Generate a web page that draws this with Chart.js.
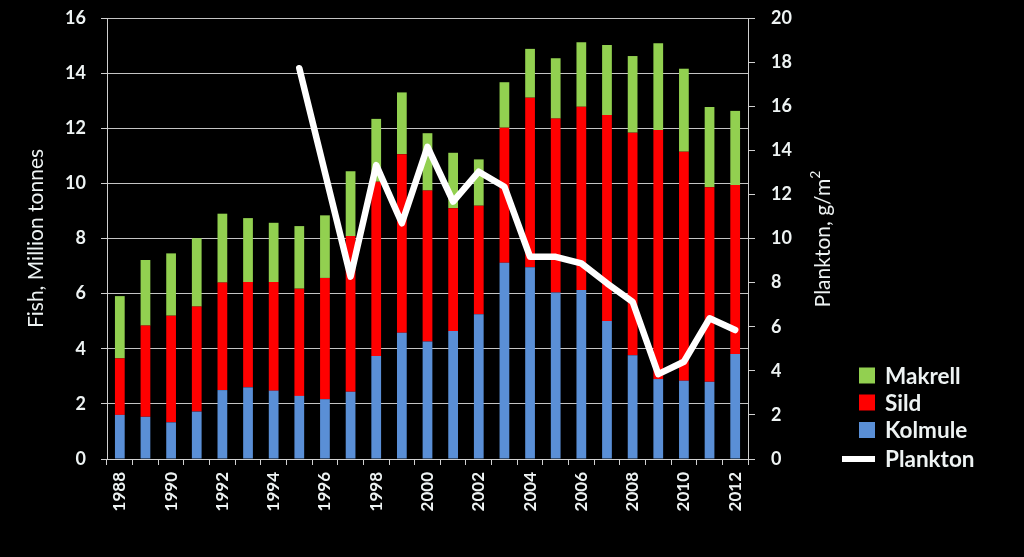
<!DOCTYPE html>
<html><head><meta charset="utf-8">
<script src="https://cdn.jsdelivr.net/npm/chart.js@4/dist/chart.umd.min.js"></script>
<style>html,body{margin:0;padding:0;background:#000;overflow:hidden}#wrap{width:1024px;height:557px;position:relative}</style>
</head><body><div id="wrap"><canvas id="c" width="1024" height="557"></canvas></div>
<script>
const years = ['1988','1989','1990','1991','1992','1993','1994','1995','1996','1997','1998','1999','2000','2001','2002','2003','2004','2005','2006','2007','2008','2009','2010','2011','2012'];
const tickLabels = ['1988','','1990','','1992','','1994','','1996','','1998','','2000','','2002','','2004','','2006','','2008','','2010','','2012'];
const kolmule = [1.60,1.53,1.33,1.72,2.50,2.60,2.48,2.29,2.17,2.44,3.74,4.58,4.26,4.64,5.25,7.12,6.96,6.04,6.13,5.01,3.76,2.90,2.84,2.80,3.81];
const sild    = [2.05,3.31,3.87,3.81,3.90,3.82,3.94,3.89,4.40,5.65,6.32,6.48,5.48,4.46,3.94,4.90,6.15,6.31,6.65,7.47,8.08,9.04,8.31,7.06,6.13];
const makrell = [2.26,2.38,2.26,2.48,2.50,2.32,2.15,2.27,2.27,2.35,2.28,2.24,2.08,2.01,1.68,1.65,1.77,2.19,2.34,2.54,2.78,3.14,3.01,2.91,2.69];
const plankton = [null,null,null,null,null,null,null,17.72,null,8.27,13.33,10.69,14.16,11.67,13.03,12.35,9.17,9.17,8.87,7.97,7.13,3.85,4.41,6.38,5.85];
const fishTicks = [0,2,4,6,8,10,12,14,16];
const planktonTicks = [0,2,4,6,8,10,12,14,16,18,20];

const TXT = '#eef3f3';
const FONT = 'Lato, "Open Sans", sans-serif';
const legendItems = [
  {label:'Makrell', color:'#92d050', type:'box'},
  {label:'Sild', color:'#ff0000', type:'box'},
  {label:'Kolmule', color:'#5a8fd6', type:'box'},
  {label:'Plankton', color:'#ffffff', type:'line'}
];

const decor = {
  id:'decor',
  beforeDraw(chart){
    const ctx = chart.ctx;
    ctx.save(); ctx.fillStyle='#000'; ctx.fillRect(0,0,chart.width,chart.height); ctx.restore();
  },
  afterDraw(chart){
    const ctx = chart.ctx;
    ctx.save();
    ctx.translate(823, 239);
    ctx.rotate(-Math.PI/2);
    ctx.fillStyle = TXT;
    ctx.font = '21px ' + FONT;
    const main = 'Plankton, g/m';
    const w1 = ctx.measureText(main).width;
    ctx.font = '14px ' + FONT;
    const w2 = ctx.measureText('2').width;
    const start = -(w1 + w2)/2;
    ctx.textBaseline = 'middle';
    ctx.textAlign = 'left';
    ctx.font = '21px ' + FONT;
    ctx.fillText(main, start, 0);
    ctx.font = '14px ' + FONT;
    ctx.fillText('2', start + w1, -8);
    ctx.restore();
    ctx.save();
    const ys = [375.5, 402.5, 430, 459];
    legendItems.forEach((it, i) => {
      const y = ys[i];
      ctx.fillStyle = it.color;
      if (it.type === 'box') ctx.fillRect(859, y-8, 16, 16);
      else ctx.fillRect(842, y-3, 33, 6);
      ctx.fillStyle = TXT;
      ctx.font = 'bold 22.5px ' + FONT;
      ctx.textBaseline = 'middle';
      ctx.textAlign = 'left';
      ctx.fillText(it.label, 885, y+1);
    });
    ctx.restore();
  }
};

const barCommon = {categoryPercentage:1, barPercentage:0.38, stack:'fish', yAxisID:'y', order:1, borderWidth:0};

new Chart(document.getElementById('c'), {
  data: {
    labels: years,
    datasets: [
      Object.assign({type:'bar', label:'Kolmule', data:kolmule, backgroundColor:'#5a8fd6'}, barCommon),
      Object.assign({type:'bar', label:'Sild', data:sild, backgroundColor:'#ff0000'}, barCommon),
      Object.assign({type:'bar', label:'Makrell', data:makrell, backgroundColor:'#92d050'}, barCommon),
      {type:'line', label:'Plankton', data:plankton, yAxisID:'y1', borderColor:'#ffffff', borderWidth:6.5,
       pointRadius:0, tension:0, spanGaps:true, order:0, borderJoinStyle:'round', borderCapStyle:'round', fill:false}
    ]
  },
  options: {
    responsive:false, animation:false, devicePixelRatio:1,
    layout:{padding:{top:18,left:0,right:0,bottom:0}},
    plugins:{legend:{display:false}, tooltip:{enabled:false}},
    scales:{
      x:{
        stacked:true, offset:true,
        grid:{display:true, drawOnChartArea:false, drawTicks:true, tickLength:6, color:'#d0d0d0', offset:true},
        border:{display:true, color:'#d0d0d0', width:1},
        ticks:{autoSkip:false, minRotation:90, maxRotation:90, color:TXT, padding:7,
          font:{family:FONT, weight:'bold', size:17},
          callback:(v,i)=>tickLabels[i]},
        afterFit:s=>{s.height=98; s.paddingLeft=0; s.paddingRight=0;}
      },
      y:{
        position:'left', stacked:true, min:0, max:16,
        afterBuildTicks:s=>{s.ticks = fishTicks.map(v=>({value:v}));},
        grid:{color:'#c4c4c4', lineWidth:1, tickLength:6, tickColor:'#d0d0d0'},
        border:{display:true, color:'#d0d0d0', width:1},
        ticks:{color:TXT, padding:15, font:{family:FONT, weight:'bold', size:18}},
        title:{display:true, text:'Fish, Million tonnes', color:TXT, font:{family:FONT, size:21}, padding:{top:24, bottom:0}},
        afterFit:s=>{s.width=107; s.paddingTop=0; s.paddingBottom=0;}
      },
      y1:{
        position:'right', min:0, max:20,
        afterBuildTicks:s=>{s.ticks = planktonTicks.map(v=>({value:v}));},
        grid:{drawOnChartArea:false, tickLength:7, color:'#d0d0d0'},
        border:{display:true, color:'#d0d0d0', width:1},
        ticks:{color:TXT, padding:16, font:{family:FONT, weight:'bold', size:18}},
        afterFit:s=>{s.width=276; s.paddingTop=0; s.paddingBottom=0;}
      }
    }
  },
  plugins:[decor]
});
</script></body></html>
